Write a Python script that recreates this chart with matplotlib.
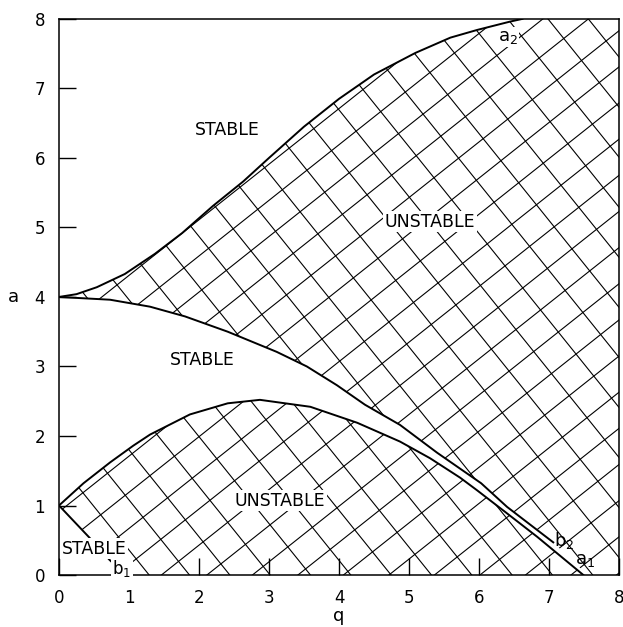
import numpy as np
import matplotlib
matplotlib.use("Agg")
import matplotlib.pyplot as plt
from matplotlib.path import Path
from matplotlib.collections import LineCollection

# curvas de transicao (q, a)
a2_q = [0, 0.25, 0.54, 0.94, 1.37, 1.76, 2.2, 2.63, 3.0, 3.5, 4.0, 4.5, 5.09, 5.59, 5.97, 6.44, 6.62]
a2_a = [4.0, 4.04, 4.14, 4.33, 4.62, 4.92, 5.31, 5.66, 6.0, 6.45, 6.85, 7.2, 7.51, 7.73, 7.84, 7.96, 8.0]

b2_q = [0, 0.73, 1.3, 1.8, 2.41, 3.11, 3.54, 3.97, 4.37, 4.87, 5.4, 6.03, 6.4, 7.06]
b2_a = [4.0, 3.96, 3.86, 3.72, 3.50, 3.21, 3.0, 2.73, 2.45, 2.16, 1.76, 1.32, 0.98, 0.47]

a1_q = [0, 0.35, 0.73, 1.06, 1.3, 1.87, 2.41, 2.87, 3.59, 4.26, 4.87, 5.3, 5.73, 5.97, 6.37, 6.83, 7.49]
a1_a = [1.0, 1.32, 1.62, 1.86, 2.02, 2.31, 2.47, 2.52, 2.42, 2.19, 1.92, 1.68, 1.40, 1.22, 0.91, 0.55, 0.0]

b1_q = [0, 0.47, 0.72, 0.95]
b1_a = [1.0, 0.5, 0.22, 0.0]

ticks = [0, 1, 2, 3, 4, 5, 6, 7, 8]

fig = plt.figure(figsize=(6.23, 6.27), dpi=100)
ax = fig.add_axes([0.0947, 0.0829, 0.899, 0.887])
ax.set_xlim(0, 8)
ax.set_ylim(0, 8)

# regioes instaveis (para recortar o hachurado)
sup = list(zip(a2_q, a2_a)) + [(8, 8), (8, 0), (7.55, 0)] + list(zip(b2_q, b2_a))[::-1]
inf = list(zip(b1_q, b1_a)) + [(7.49, 0)] + list(zip(a1_q, a1_a))[::-1]
regiao = Path.make_compound_path(Path(sup, closed=True), Path(inf, closed=True))

# hachurado cruzado
segs = []
for c in np.arange(-2.21 - 0.52 * 20, 9, 0.52):
    segs.append([(-1, 0.8 * -1 + c), (9, 0.8 * 9 + c)])
for c in np.arange(3.05 - 0.72 * 5, 20, 0.72):
    segs.append([(-1, -1.25 * -1 + c), (9, -1.25 * 9 + c)])
lc = LineCollection(segs, colors='black', linewidths=0.8)
lc.set_clip_path(regiao, ax.transData)
ax.add_collection(lc)

for qq, aa in [(a2_q, a2_a), (b2_q, b2_a), (a1_q, a1_a), (b1_q, b1_a)]:
    ax.plot(qq, aa, color='black', linewidth=1.4)

caixa = dict(facecolor='white', edgecolor='none', pad=1)
ax.text(2.4, 6.4, 'STABLE', fontsize=12.5, ha='center', va='center')
ax.text(5.3, 5.08, 'UNSTABLE', fontsize=12.5, ha='center', va='center', bbox=caixa)
ax.text(2.05, 3.09, 'STABLE', fontsize=12.5, ha='center', va='center')
ax.text(3.16, 1.07, 'UNSTABLE', fontsize=12.5, ha='center', va='center', bbox=caixa)
ax.text(0.5, 0.38, 'STABLE', fontsize=12.5, ha='center', va='center', bbox=caixa)
ax.text(0.9, 0.1, r'$\mathregular{b_1}$', fontsize=12, ha='center', va='center', bbox=caixa)
ax.text(7.21, 0.5, r'$\mathregular{b_2}$', fontsize=13, ha='center', va='center')
ax.text(7.52, 0.22, r'$\mathregular{a_1}$', fontsize=13, ha='center', va='center')
ax.text(6.41, 7.74, r'$\mathregular{a_2}$', fontsize=13, ha='center', va='center', bbox=caixa)

ax.set_xticks(ticks)
ax.set_yticks(ticks)
ax.tick_params(direction='in', length=12, width=1, labelsize=12, pad=10,
               top=False, right=False)
for s in ax.spines.values():
    s.set_linewidth(1.1)

ax.text(-0.082, 0.5, 'a', transform=ax.transAxes, fontsize=13, ha='center', va='center')
ax.text(0.5, -0.073, 'q', transform=ax.transAxes, fontsize=13, ha='center', va='center')

fig.savefig('out.png', dpi=100)
